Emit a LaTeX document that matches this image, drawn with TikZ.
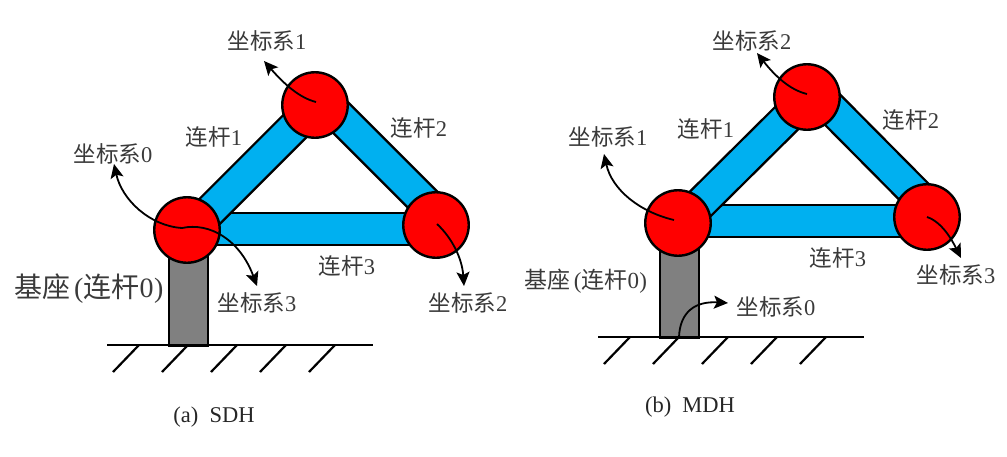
\documentclass[tikz,border=0pt]{standalone}
\usepackage{fontspec}
\setmainfont{Liberation Serif}
\newfontfamily\cjk{Noto Sans CJK SC}
\usetikzlibrary{arrows.meta}
\definecolor{linkblue}{HTML}{00B0F0}
\definecolor{labelgray}{HTML}{3A3A3A}
\newcommand{\zbx}[1]{{\cjk 坐标系}#1}
\newcommand{\lgn}[1]{{\cjk 连杆}#1}
\newcommand{\jzl}{{\cjk 基座}\hspace{0.13em}({\cjk 连杆}0\hspace{0.02em})}
\tikzset{
  linkbar/.style={draw=black,line width=2.4pt,double=linkblue,double distance=29.5pt},
  jointc/.style={circle,draw=black,line width=2.4pt,fill=red,minimum size=65.5pt,inner sep=0pt},
  basebox/.style={draw=black,line width=2.4pt,fill=gray,minimum width=39pt,minimum height=97pt,inner sep=0pt},
  groundl/.style={draw=black,line width=2.2pt},
  framearrow/.style={draw=black,line width=1.8pt,-{Stealth[length=14pt,width=13pt,inset=3pt]}},
  lab/.style={inner sep=0pt,text=labelgray,font=\fontsize{22.5}{24}\selectfont},
  baselab/.style={lab,font=\fontsize{28}{30}\selectfont},
  baselabb/.style={lab,font=\fontsize{23}{25}\selectfont},
  caption/.style={inner sep=0pt,text=black!85,font=\fontsize{22.5}{24}\selectfont}
}
\begin{document}
\begin{tikzpicture}[x=1pt,y=-1pt]
\useasboundingbox (0,0) rectangle (1007,456);
% ---------- (a) SDH
\coordinate (a3s) at (190,229); \coordinate (a3e) at (436,229);
\coordinate (a1s) at (189,232); \coordinate (a1e) at (315,106);
\coordinate (a2s) at (321,98);  \coordinate (a2e) at (442,219);
\draw[linkbar] (a3s) -- (a3e);
\draw[linkbar] (a1s) -- (a1e);
\draw[linkbar] (a2s) -- (a2e);
\node[basebox] (abase) at (188.5,297) {};
\coordinate (agl) at (107,345); \coordinate (agr) at (373,345);
\draw[groundl] (agl) -- (agr);
\foreach \x in {139,188,237,286,335}{
  \draw[groundl] (\x,345) -- (\x-26,372);
}
\node[jointc] (aJ0) at (187,230) {};
\node[jointc] (aJ1) at (315,105) {};
\node[jointc] (aJ2) at (436,225) {};
\coordinate (af0s) at (182,228); \coordinate (af0e) at (114,164);
\coordinate (af3e) at (257,286);
\coordinate (af1s) at (316,102); \coordinate (af1e) at (264,61);
\coordinate (af2s) at (437,224); \coordinate (af2e) at (464,286);
\draw[framearrow] (af0s) .. controls (150,226) and (122,200) .. (af0e);
\draw[framearrow] (af0s) .. controls (210,222) and (240,240) .. (af3e);
\draw[framearrow] (af1s) .. controls (300,98) and (285,85) .. (af1e);
\draw[framearrow] (af2s) .. controls (452,238) and (462,258) .. (af2e);
\node[lab] (al1) at (214,137) {\lgn{1}};
\node[lab] (al2) at (419,128) {\lgn{2}};
\node[lab] (al3) at (347,266) {\lgn{3}};
\node[lab] (af0) at (113,154) {\zbx{0}};
\node[lab] (af1) at (267,41) {\zbx{1}};
\node[lab] (af2) at (468,303) {\zbx{2}};
\node[lab] (af3) at (257,303) {\zbx{3}};
\node[baselab] (abl) at (89,289) {\jzl};
\node[caption] (acap) at (214,417) {(a)\ \ SDH};
% ---------- (b) MDH
\coordinate (b3s) at (681,221); \coordinate (b3e) at (927,221);
\coordinate (b1s) at (680,224); \coordinate (b1e) at (807,98);
\coordinate (b2s) at (813,90);  \coordinate (b2e) at (933,211);
\draw[linkbar] (b3s) -- (b3e);
\draw[linkbar] (b1s) -- (b1e);
\draw[linkbar] (b2s) -- (b2e);
\node[basebox] (bbase) at (679.5,289) {};
\coordinate (bgl) at (598,337); \coordinate (bgr) at (864,337);
\draw[groundl] (bgl) -- (bgr);
\foreach \x in {630,679,728,777,826}{
  \draw[groundl] (\x,337) -- (\x-26,364);
}
\node[jointc] (bJ0) at (678,223) {};
\node[jointc] (bJ1) at (807,97) {};
\node[jointc] (bJ2) at (927,217) {};
\coordinate (bf1s) at (674,220); \coordinate (bf1e) at (604,154);
\coordinate (bf2s) at (807,94);  \coordinate (bf2e) at (757,53);
\coordinate (bf3s) at (927,217); \coordinate (bf3e) at (961,258);
\coordinate (bf0s) at (679,337); \coordinate (bf0e) at (728,303);
\draw[framearrow] (bf1s) .. controls (640,212) and (612,190) .. (bf1e);
\draw[framearrow] (bf2s) .. controls (790,90) and (775,76) .. (bf2e);
\draw[framearrow] (bf3s) .. controls (942,222) and (952,240) .. (bf3e);
\draw[framearrow] (bf0s) .. controls (680,312) and (695,301) .. (bf0e);
\node[lab] (bl1) at (706,129) {\lgn{1}};
\node[lab] (bl2) at (911,120) {\lgn{2}};
\node[lab] (bl3) at (838,258) {\lgn{3}};
\node[lab] (bf0) at (776,307) {\zbx{0}};
\node[lab] (bf1) at (608,137) {\zbx{1}};
\node[lab] (bf2) at (752,41) {\zbx{2}};
\node[lab] (bf3) at (956,275) {\zbx{3}};
\node[baselabb] (bbl) at (586,281) {\jzl};
\node[caption] (bcap) at (690,407) {(b)\ \ MDH};
\end{tikzpicture}
\end{document}
